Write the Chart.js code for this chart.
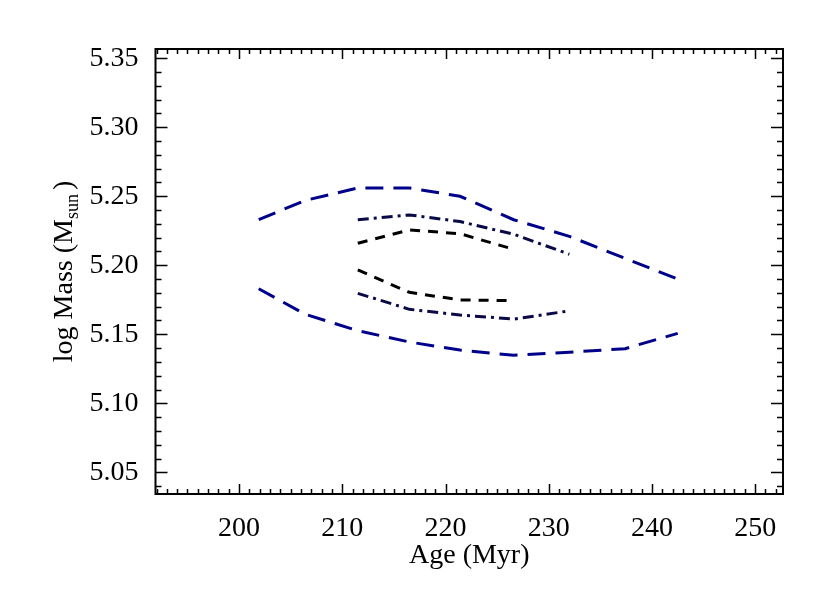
<!DOCTYPE html>
<html>
<head>
<meta charset="utf-8">
<script src="https://cdn.jsdelivr.net/npm/chart.js@4/dist/chart.umd.min.js"></script>
<style>
  html, body { margin: 0; padding: 0; background: #fff; }
  #wrap { width: 830px; height: 593px; }
</style>
</head>
<body>
<div id="wrap"><canvas id="chart"></canvas></div>
<script>
// valores
const ages = [201.9, 206.4, 211.5, 216.5, 221.4, 226.6, 232.0, 237.4, 242.5];
const outerUpper = [5.233, 5.247, 5.256, 5.256, 5.250, 5.233, 5.221, 5.205, 5.190];
const outerLower = [5.183, 5.1645, 5.1526, 5.1444, 5.1386, 5.1348, 5.137, 5.1396, 5.1507];
const dotDashUpper = [5.233, 5.2365, 5.2317, 5.2225, 5.208];   // a partir de 211.5
const dotDashLower = [5.1797, 5.1681, 5.164, 5.161, 5.167];
const dashUpper = [5.216, 5.2256, 5.2229, 5.2116];
const dashLower = [5.1966, 5.1804, 5.1749, 5.1744];
const xTicks = [200, 210, 220, 230, 240, 250];
const yTicks = [5.05, 5.10, 5.15, 5.20, 5.25, 5.30, 5.35];

const serif = "'Liberation Serif', 'DejaVu Serif', serif";

function pts(vals, start) {
  return vals.map((v, i) => ({ x: ages[start + i], y: v }));
}

function line(data, color, dash) {
  return {
    data: data,
    showLine: true,
    borderColor: color,
    borderWidth: 3,
    borderDash: dash,
    pointRadius: 0,
    fill: false,
    tension: 0
  };
}

// moldura com marcas para dentro, nos quatro lados
const framePlugin = {
  id: 'frame',
  afterDraw(chart) {
    const { ctx, chartArea: a, scales: { x, y } } = chart;
    ctx.save();
    ctx.strokeStyle = '#000';
    ctx.lineWidth = 2;
    ctx.strokeRect(a.left, a.top, a.right - a.left, a.bottom - a.top);
    ctx.lineWidth = 1.5;
    ctx.beginPath();
    for (let v = 192; v <= 252; v++) {
      const px = Math.round(x.getPixelForValue(v)) + 0.5;
      const len = v % 10 === 0 ? 10 : 5;
      ctx.moveTo(px, a.bottom); ctx.lineTo(px, a.bottom - len);
      ctx.moveTo(px, a.top); ctx.lineTo(px, a.top + len);
    }
    for (let k = 504; k <= 535; k++) {
      const v = k / 100;
      const py = Math.round(y.getPixelForValue(v)) + 0.5;
      const len = k % 5 === 0 ? 12 : 6;
      ctx.moveTo(a.left, py); ctx.lineTo(a.left + len, py);
      ctx.moveTo(a.right, py); ctx.lineTo(a.right - len, py);
    }
    ctx.stroke();

    // título do eixo y com subscrito
    ctx.fillStyle = '#000';
    ctx.translate(72, (a.top + a.bottom) / 2);
    ctx.rotate(-Math.PI / 2);
    ctx.textBaseline = 'alphabetic';
    const big = '28px ' + serif, small = '18px ' + serif;
    ctx.font = big;
    const p1 = 'log Mass (M', p3 = ')';
    const w1 = ctx.measureText(p1).width, w3 = ctx.measureText(p3).width;
    ctx.font = small;
    const w2 = ctx.measureText('sun').width;
    let sx = -(w1 + w2 + w3 + 4) / 2;
    ctx.font = big;
    ctx.fillText(p1, sx, 0);
    ctx.font = small;
    ctx.fillText('sun', sx + w1, 6);
    ctx.font = big;
    ctx.fillText(p3, sx + w1 + w2 + 4, 0);
    ctx.restore();
  }
};

const ctx = document.getElementById('chart').getContext('2d');
const chart = new Chart(ctx, {
  type: 'scatter',
  data: {
    datasets: [
      line(pts(outerUpper, 0), '#00008b', [18, 10]),
      line(pts(outerLower, 0), '#00008b', [18, 10]),
      line(pts(dotDashUpper, 2), '#0a0a46', [11, 5, 3, 5]),
      line(pts(dotDashLower, 2), '#0a0a46', [11, 5, 3, 5]),
      line(pts(dashUpper, 2), '#000000', [10, 8]),
      line(pts(dashLower, 2), '#000000', [10, 8])
    ]
  },
  options: {
    responsive: true,
    maintainAspectRatio: false,
    animation: false,
    layout: { padding: { left: 0, right: 47, top: 49, bottom: 0 } },
    plugins: { legend: { display: false }, tooltip: { enabled: false } },
    scales: {
      x: {
        type: 'linear',
        min: 191.9,
        max: 252.7,
        grid: { display: false },
        border: { display: false },
        afterBuildTicks: s => { s.ticks = xTicks.map(v => ({ value: v })); },
        afterFit: s => { s.height = 99; },
        ticks: {
          color: '#000',
          padding: 10,
          maxRotation: 0,
          font: { family: serif, size: 28 },
          callback: v => String(v)
        },
        title: {
          display: true,
          text: 'Age (Myr)',
          color: '#000',
          font: { family: serif, size: 28 },
          padding: { top: 0, bottom: 21 }
        }
      },
      y: {
        type: 'linear',
        min: 5.0343,
        max: 5.3567,
        grid: { display: false },
        border: { display: false },
        afterBuildTicks: s => { s.ticks = yTicks.map(v => ({ value: v })); },
        afterFit: s => { s.width = 155.5; },
        ticks: {
          color: '#000',
          padding: 9,
          font: { family: serif, size: 28 },
          callback: v => Number(v).toFixed(2)
        }
      }
    }
  },
  plugins: [framePlugin]
});
</script>
</body>
</html>
